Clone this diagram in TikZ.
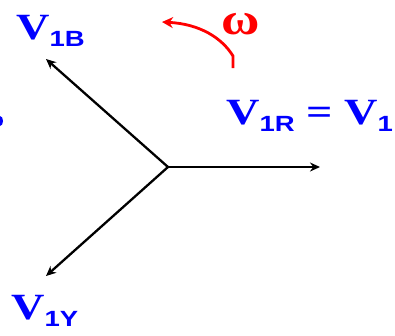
\documentclass[tikz,border=0pt]{standalone}
\usepackage{fontspec}
\setmainfont{Liberation Serif}
\newfontfamily\lsans{Liberation Sans}
\usetikzlibrary{arrows.meta}
\definecolor{vblue}{RGB}{0,0,255}
\definecolor{wred}{RGB}{255,0,0}
\newcommand\subl[1]{\raisebox{-7pt}{\lsans\bfseries\fontsize{22}{22}\selectfont #1}}
\newcommand\stretched[1]{\scalebox{1.25}[1]{\fontsize{37}{37}\selectfont\bfseries #1}}
\tikzset{
  phasor/.style={draw=black, line width=2.3pt, -{Stealth[length=10pt,width=9pt]}},
  vlabel/.style={text=vblue, inner sep=0pt, anchor=base west},
  rot/.style={draw=wred, line width=2.8pt, -{Stealth[length=11pt,width=11pt]}}
}
\begin{document}
\begin{tikzpicture}[x=1pt,y=-1pt]
\useasboundingbox (0,0) rectangle (395,335);
\clip (0,0) rectangle (395,335);
\coordinate (O) at (168,167);
\coordinate (R) at (320,167);
\coordinate (B) at (46,59);
\coordinate (Y) at (46,276);
\draw[phasor] (O) -- (R);
\draw[phasor] (O) -- (B);
\draw[phasor] (O) -- (Y);
\node[vlabel] (lB) at (16,39) {\stretched{V\subl{1B}}};
\node[vlabel] (lR) at (226,124) {\stretched{V\subl{1R} = V\subl{1}}};
\node[vlabel] (lY) at (11,319) {\stretched{V\subl{1Y}}};
\node[text=wred, inner sep=0pt, anchor=base west] (w) at (221,34) {\scalebox{1.75}[1.5]{\fontsize{30}{30}\selectfont\bfseries ω}};
\coordinate (a0) at (233,68);
\coordinate (a1) at (233,56);
\coordinate (a2) at (162,22);
\draw[rot] (a0) -- (a1) .. controls (222,38) and (200,24) .. (a2);
\fill[vblue] (0,121) ellipse (3 and 5);
\end{tikzpicture}
\end{document}
